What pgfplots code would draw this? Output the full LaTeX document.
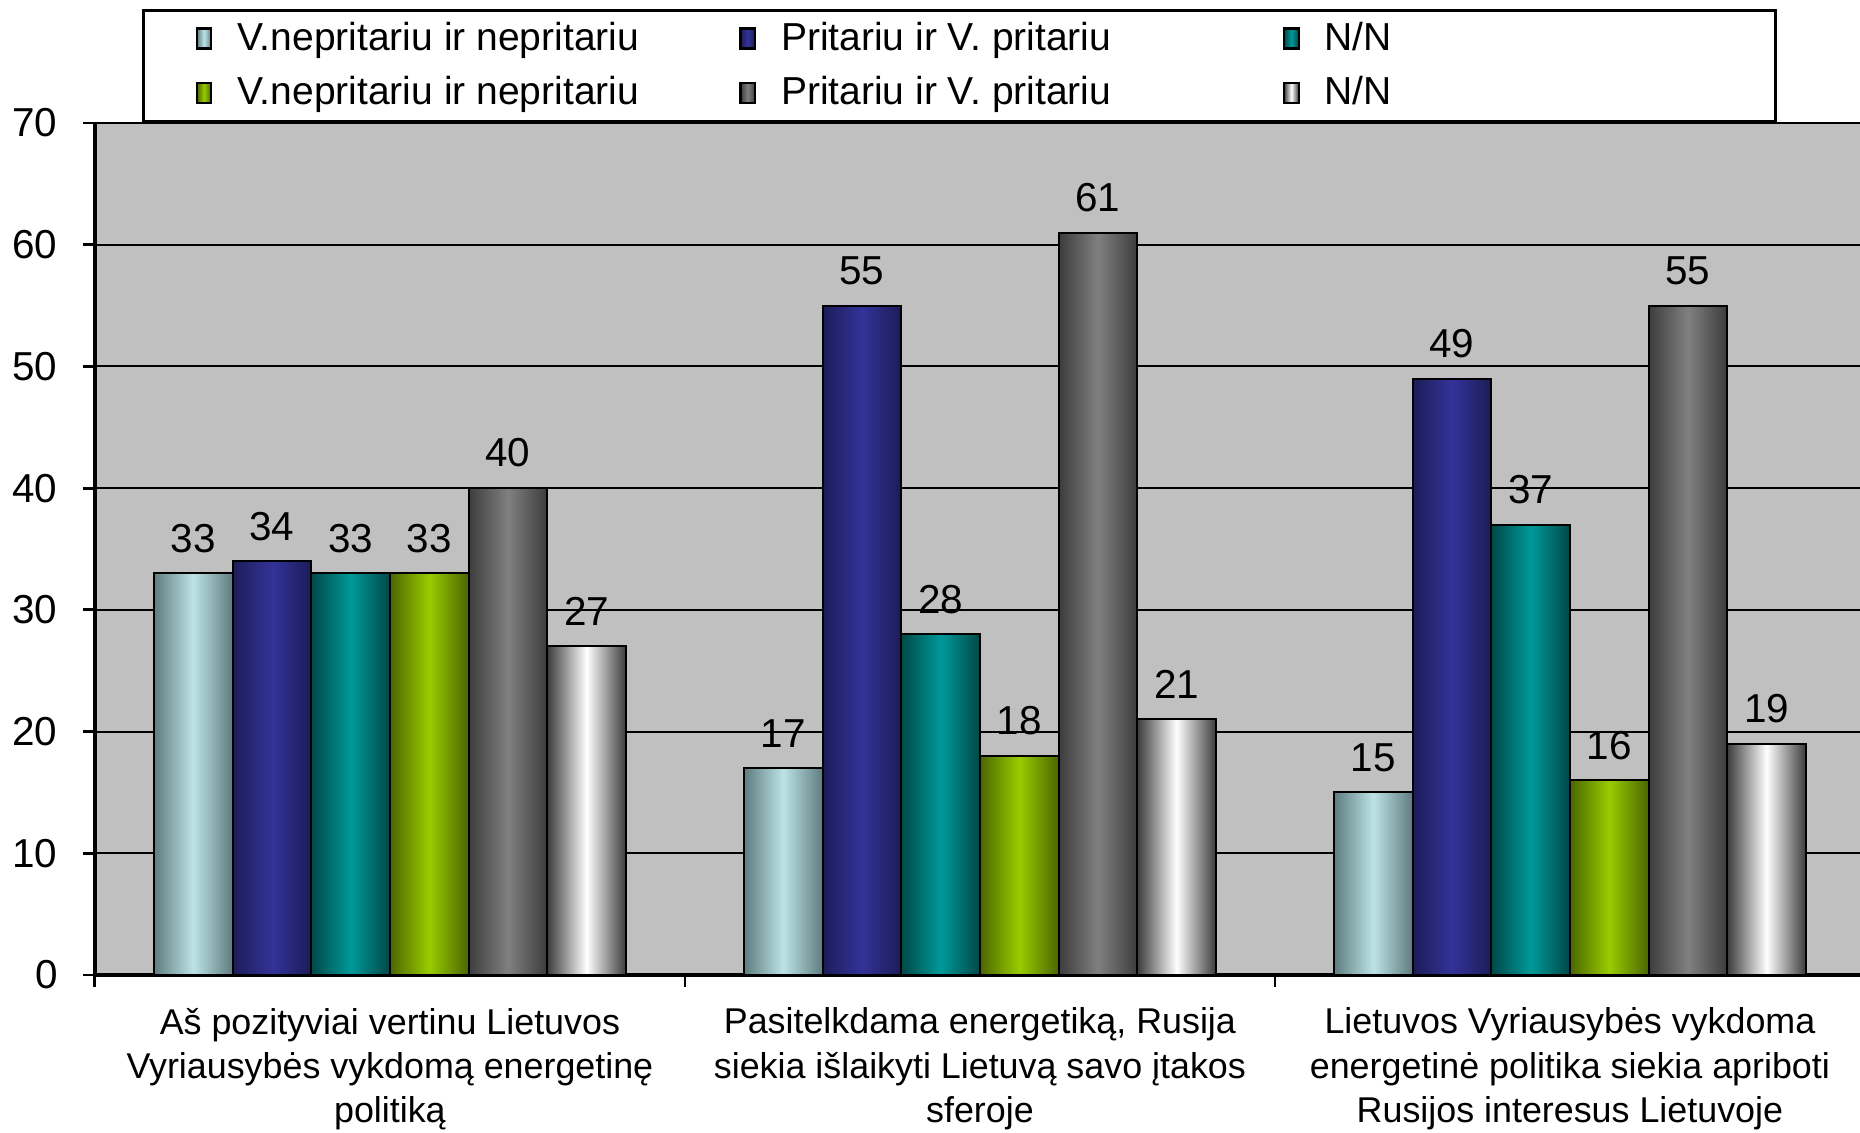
\documentclass[border=0pt]{standalone}
\usepackage{fontspec}
\setmainfont{Liberation Sans}
\usepackage{pgfplots}
\pgfplotsset{compat=1.18}
\definecolor{bgC}{HTML}{C0C0C0}
\definecolor{lbM}{HTML}{BCE3E6}\definecolor{lbE}{HTML}{5F7C80}
\definecolor{nvM}{HTML}{333399}\definecolor{nvE}{HTML}{1C1C58}
\definecolor{tlM}{HTML}{009999}\definecolor{tlE}{HTML}{004848}
\definecolor{grM}{HTML}{99CC00}\definecolor{grE}{HTML}{4A6600}
\definecolor{gyM}{HTML}{808080}\definecolor{gyE}{HTML}{3C3C3C}
\definecolor{whM}{HTML}{FFFFFF}\definecolor{whE}{HTML}{3C3C3C}
\newcommand{\lt}[2]{\makebox[#1][l]{#2}}
% one series: shift, edge colour, middle colour, three values, legend text
\newcommand{\series}[7]{%
  \addplot[bar shift=#1, left color=#2, right color=#2, middle color=#3] coordinates {(0,#4)};
  \addlegendentry{#7}
  \addplot[forget plot, bar shift=#1, left color=#2, right color=#2, middle color=#3] coordinates {(1,#5)};
  \addplot[forget plot, bar shift=#1, left color=#2, right color=#2, middle color=#3] coordinates {(2,#6)};
}
\begin{document}
\begin{tikzpicture}[font=\fontsize{10.2}{12.6}\selectfont]
\path[use as bounding box] (0,0) rectangle (186mm,113.2mm);
\begin{axis}[
  at={(9.49mm,15.7mm)}, anchor=south west,
  scale only axis, width=177mm, height=85.2mm,
  xmin=-0.5, xmax=2.5, ymin=0, ymax=70,
  ytick={0,10,...,70},
  xtick={0,1,2},
  minor xtick={-0.5,0.5,1.5,2.5},
  xticklabels={{Aš pozityviai vertinu Lietuvos\\Vyriausybės vykdomą energetinę\\politiką},
               {Pasitelkdama energetiką, Rusija\\siekia išlaikyti Lietuvą savo įtakos\\sferoje},
               {Lietuvos Vyriausybės vykdoma\\energetinė politika siekia apriboti\\Rusijos interesus Lietuvoje}},
  xticklabel style={align=center, font=\fontsize{10.2}{12.6}\selectfont, yshift=-0.85mm},
  yticklabel style={font=\fontsize{11.5}{13}\selectfont, xshift=-1.3mm},
  /pgf/number format/assume math mode=true,
  axis lines=left,
  axis line style={-, black, line width=1pt},
  major x tick style={draw=none},
  minor x tick style={black, line width=0.8pt},
  major y tick style={black, line width=0.8pt},
  major tick length=1.2mm, minor tick length=1.2mm,
  tick align=outside,
  ymajorgrids, grid style={black, line width=0.6pt},
  axis background/.style={fill=bgC},
  ybar, bar width=0.1333,
  nodes near coords,
  nodes near coords style={black, font=\fontsize{11.5}{13}\selectfont, anchor=south, yshift=0.8mm},
  every axis plot/.append style={draw=black, line width=0.6pt},
  legend columns=3,
  legend image code/.code={\draw[#1, line width=0.6pt] (0cm,-1.0mm) rectangle (1.45mm,1.0mm);},
  legend style={at={(0.0268,1.134)}, anchor=north west, draw=black, line width=0.8pt, fill=white,
    inner xsep=5.2mm, inner ysep=0.45mm, row sep=0.7mm, column sep=1.8mm,
    font=\fontsize{11.1}{13}\selectfont, cells={anchor=west}},
]
\series{-0.3333}{lbE}{lbM}{33}{17}{15}{\lt{47.7mm}{V.nepritariu ir nepritariu}}
\series{-0.2}{nvE}{nvM}{34}{55}{49}{\lt{47.7mm}{Pritariu ir V. pritariu}}
\series{-0.0667}{tlE}{tlM}{33}{28}{37}{\lt{39.2mm}{N/N}}
\series{0.0667}{grE}{grM}{33}{18}{16}{\lt{47.7mm}{V.nepritariu ir nepritariu}}
\series{0.2}{gyE}{gyM}{40}{61}{55}{\lt{47.7mm}{Pritariu ir V. pritariu}}
\series{0.3333}{whE}{whM}{27}{21}{19}{\lt{39.2mm}{N/N}}
\end{axis}
\end{tikzpicture}
\end{document}
